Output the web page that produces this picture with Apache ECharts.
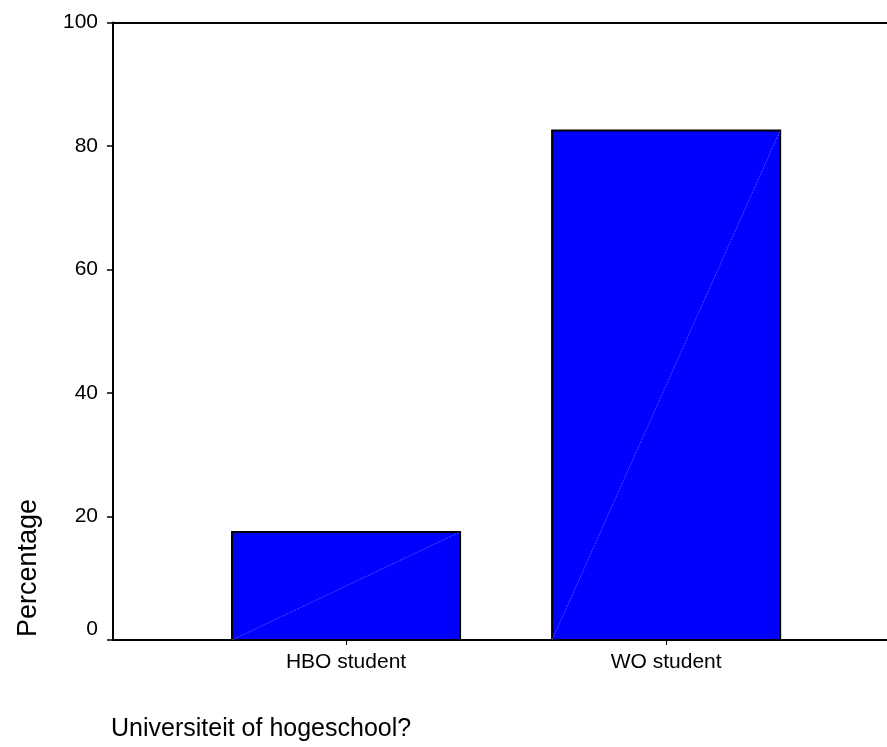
<!DOCTYPE html>
<html><head><meta charset="utf-8">
<script src="https://cdn.jsdelivr.net/npm/echarts@6/dist/echarts.min.js"></script>
<style>html,body{margin:0;padding:0;background:#fff}#c{width:887px;height:747px}</style>
</head><body><div id="c"></div>
<script>
const categories = ['HBO student', 'WO student'];
const positions = [1, 2];
const percentages = [17.5, 82.5];
const yTicks = [0, 20, 40, 60, 80, 100];
const xTitle = 'Universiteit of hogeschool?';
const yTitle = 'Percentage';

const FONT = '"Liberation Sans", Arial, sans-serif';
const BAR_FRACTION = 0.7125;

const chart = echarts.init(document.getElementById('c'), null, {renderer: 'canvas'});
const seriesData = positions.map((p, i) => [p, percentages[i]]);

chart.setOption({
  backgroundColor: '#fff',
  animation: false,
  title: {
    text: xTitle, left: 106, top: 712,
    textStyle: {fontFamily: FONT, fontSize: 25, fontWeight: 'normal', color: '#000'}
  },
  graphic: [{
    type: 'text', x: 29, y: 568, rotation: Math.PI / 2,
    style: {text: yTitle, font: '27px ' + FONT, fill: '#000', align: 'center', verticalAlign: 'middle'}
  }],
  grid: {left: 113, right: 0, top: 22.5, bottom: 107, containLabel: false},
  xAxis: [{
    type: 'value', min: 0.272, max: 2.69, position: 'bottom',
    splitLine: {show: false},
    axisLine: {show: true, onZero: false, lineStyle: {color: '#000', width: 2}},
    axisTick: {show: true, customValues: positions, length: 5, lineStyle: {color: '#000', width: 1}},
    axisLabel: {
      customValues: positions, margin: 12,
      formatter: v => categories[positions.indexOf(Math.round(v))] || '',
      fontFamily: FONT, fontSize: 21, color: '#000'
    }
  }, {
    type: 'value', min: 0.272, max: 2.69, position: 'top',
    splitLine: {show: false},
    axisLine: {show: true, onZero: false, lineStyle: {color: '#000', width: 2}},
    axisTick: {show: false}, axisLabel: {show: false}
  }],
  yAxis: {
    type: 'value', min: yTicks[0], max: yTicks[yTicks.length - 1], interval: 20,
    splitLine: {show: false},
    axisLine: {show: true, lineStyle: {color: '#000', width: 2}},
    axisTick: {show: true, length: 6, lineStyle: {color: '#000', width: 1.5}},
    axisLabel: {
      margin: 15, fontFamily: FONT, fontSize: 21, color: '#000',
      formatter: v => v === 0 ? '{z|0}' : String(v),
      rich: {z: {fontFamily: FONT, fontSize: 21, color: '#000', padding: [0, 0, 21, 0]}}
    }
  },
  series: [{
    type: 'custom',
    xAxisIndex: 0,
    data: seriesData,
    renderItem: function (params, api) {
      const x = api.value(0), v = api.value(1);
      const half = BAR_FRACTION / 2;
      const p0 = api.coord([x - half, 0]);
      const p1 = api.coord([x + half, v]);
      return {
        type: 'group',
        children: [
          {type: 'rect', shape: {x: p0[0], y: p1[1], width: p1[0] - p0[0], height: p0[1] - p1[1]},
           style: {fill: '#0000ff', stroke: '#000', lineWidth: 2}},
          {type: 'line', shape: {x1: p0[0], y1: p0[1], x2: p1[0], y2: p1[1]},
           style: {stroke: '#6a7dff', lineWidth: 0.6, lineDash: [2, 1]}}
        ]
      };
    }
  }]
});
</script>
</body></html>
